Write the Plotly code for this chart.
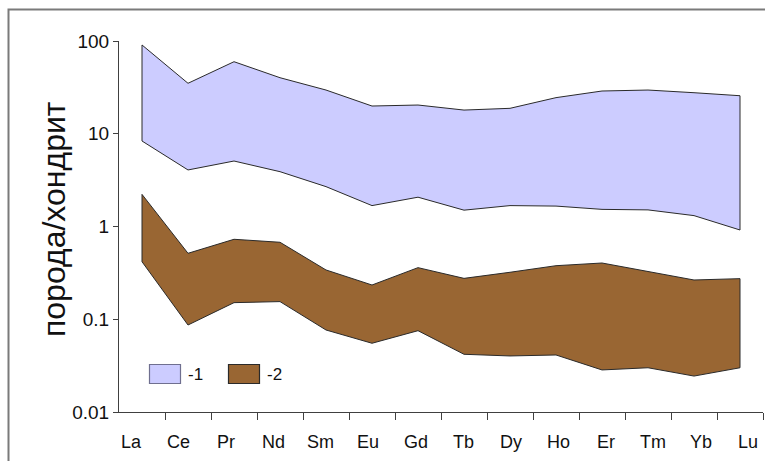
import plotly.graph_objects as go

# ---- data ----
elements = ["La", "Ce", "Pr", "Nd", "Sm", "Eu", "Gd", "Tb", "Dy", "Ho", "Er", "Tm", "Yb", "Lu"]
s1_upper = [90.6, 35.0, 59.8, 40.2, 29.6, 19.9, 20.4, 18.0, 18.8, 24.5, 28.9, 29.6, 27.7, 25.7]
s1_lower = [8.35, 4.07, 5.08, 3.90, 2.69, 1.68, 2.07, 1.50, 1.68, 1.66, 1.53, 1.51, 1.31, 0.917]
s2_upper = [2.22, 0.514, 0.728, 0.676, 0.340, 0.234, 0.360, 0.276, 0.321, 0.378, 0.404, 0.326, 0.265, 0.274]
s2_lower = [0.417, 0.0867, 0.151, 0.155, 0.0766, 0.0551, 0.0753, 0.0419, 0.0402, 0.0412, 0.0284, 0.0300, 0.0244, 0.0300]
y_tickvals = [0.01, 0.1, 1, 10, 100]
y_ticktext = ["0.01", "0.1", "1", "10", "100"]
legend_names = ["-1", "-2"]
y_title = "порода/хондрит"

# ---- layout geometry (pixels) ----
W, H = 765, 461
L, R, T, B = 119, 763, 41, 412
PW, PH = R - L, B - T


def px(xp):
    return (xp - L) / PW


def py(yp):
    return (B - yp) / PH


FONT = "Liberation Sans, Arial, sans-serif"
fill1, fill2 = "#CCCCFF", "#996633"
edge = "#2a2a2a"

idx = list(range(len(elements)))
fig = go.Figure()
for up, lo, col in [(s1_upper, s1_lower, fill1), (s2_upper, s2_lower, fill2)]:
    xs = idx + idx[::-1] + [idx[0]]
    ys = up + lo[::-1] + [up[0]]
    fig.add_trace(go.Scatter(x=xs, y=ys, mode="lines", fill="toself",
                             fillcolor=col, line=dict(color=edge, width=1),
                             hoverinfo="skip", showlegend=False))

annotations = []
# category labels (slightly wider spread than the category centres, as in the original)
lab_first, lab_step = 131.0, 47.46
for i, name in enumerate(elements):
    xpix = lab_first + lab_step * i
    annotations.append(dict(text=name, xref="paper", yref="paper",
                            x=px(xpix), y=py(442), xanchor="center", yanchor="middle",
                            showarrow=False, font=dict(family=FONT, size=18, color="#111")))
# y title
annotations.append(dict(text=y_title, xref="paper", yref="paper", x=px(54), y=py(219),
                        xanchor="center", yanchor="middle", textangle=-90, showarrow=False,
                        font=dict(family=FONT, size=32, color="#111")))

shapes = []
# legend boxes
leg_boxes = [(149.5, 180.5, fill1, "#6f6f8f"), (228.5, 259.5, fill2, "#2a2a2a")]
for (x0, x1, fc, lc), name in zip(leg_boxes, legend_names):
    shapes.append(dict(type="rect", xref="paper", yref="paper", x0=px(x0), x1=px(x1),
                       y0=py(383.5), y1=py(364.5), fillcolor=fc, line=dict(color=lc, width=1.2)))
    annotations.append(dict(text=name, xref="paper", yref="paper", x=px(x1 + 5), y=py(374),
                            xanchor="left", yanchor="middle", showarrow=False,
                            font=dict(family=FONT, size=17, color="#111")))
# outer frame (partly outside the picture)
shapes.append(dict(type="rect", xref="paper", yref="paper", x0=px(8.5), x1=px(900),
                   y0=py(600), y1=py(9.5), fillcolor="rgba(0,0,0,0)",
                   line=dict(color="#7a7a7a", width=2), layer="below"))

fig.update_layout(
    width=W, height=H,
    margin=dict(l=L, r=W - R, t=T, b=H - B),
    paper_bgcolor="white", plot_bgcolor="white",
    showlegend=False,
    annotations=annotations, shapes=shapes,
    xaxis=dict(range=[-0.5, len(elements) - 0.5], tickvals=[i + 0.5 for i in idx],
               ticktext=[""] * len(idx), ticks="outside", ticklen=7, tickcolor="#404040",
               showline=True, linecolor="#404040", linewidth=1, showgrid=False, zeroline=False,
               fixedrange=True),
    yaxis=dict(type="log", range=[-2, 2], tickvals=y_tickvals, ticktext=y_ticktext,
               ticks="outside", ticklen=5, tickcolor="#404040",
               showline=True, linecolor="#404040", linewidth=1, showgrid=False, zeroline=False,
               tickfont=dict(family=FONT, size=19, color="#111"), fixedrange=True),
)

fig.write_html("out.html")
